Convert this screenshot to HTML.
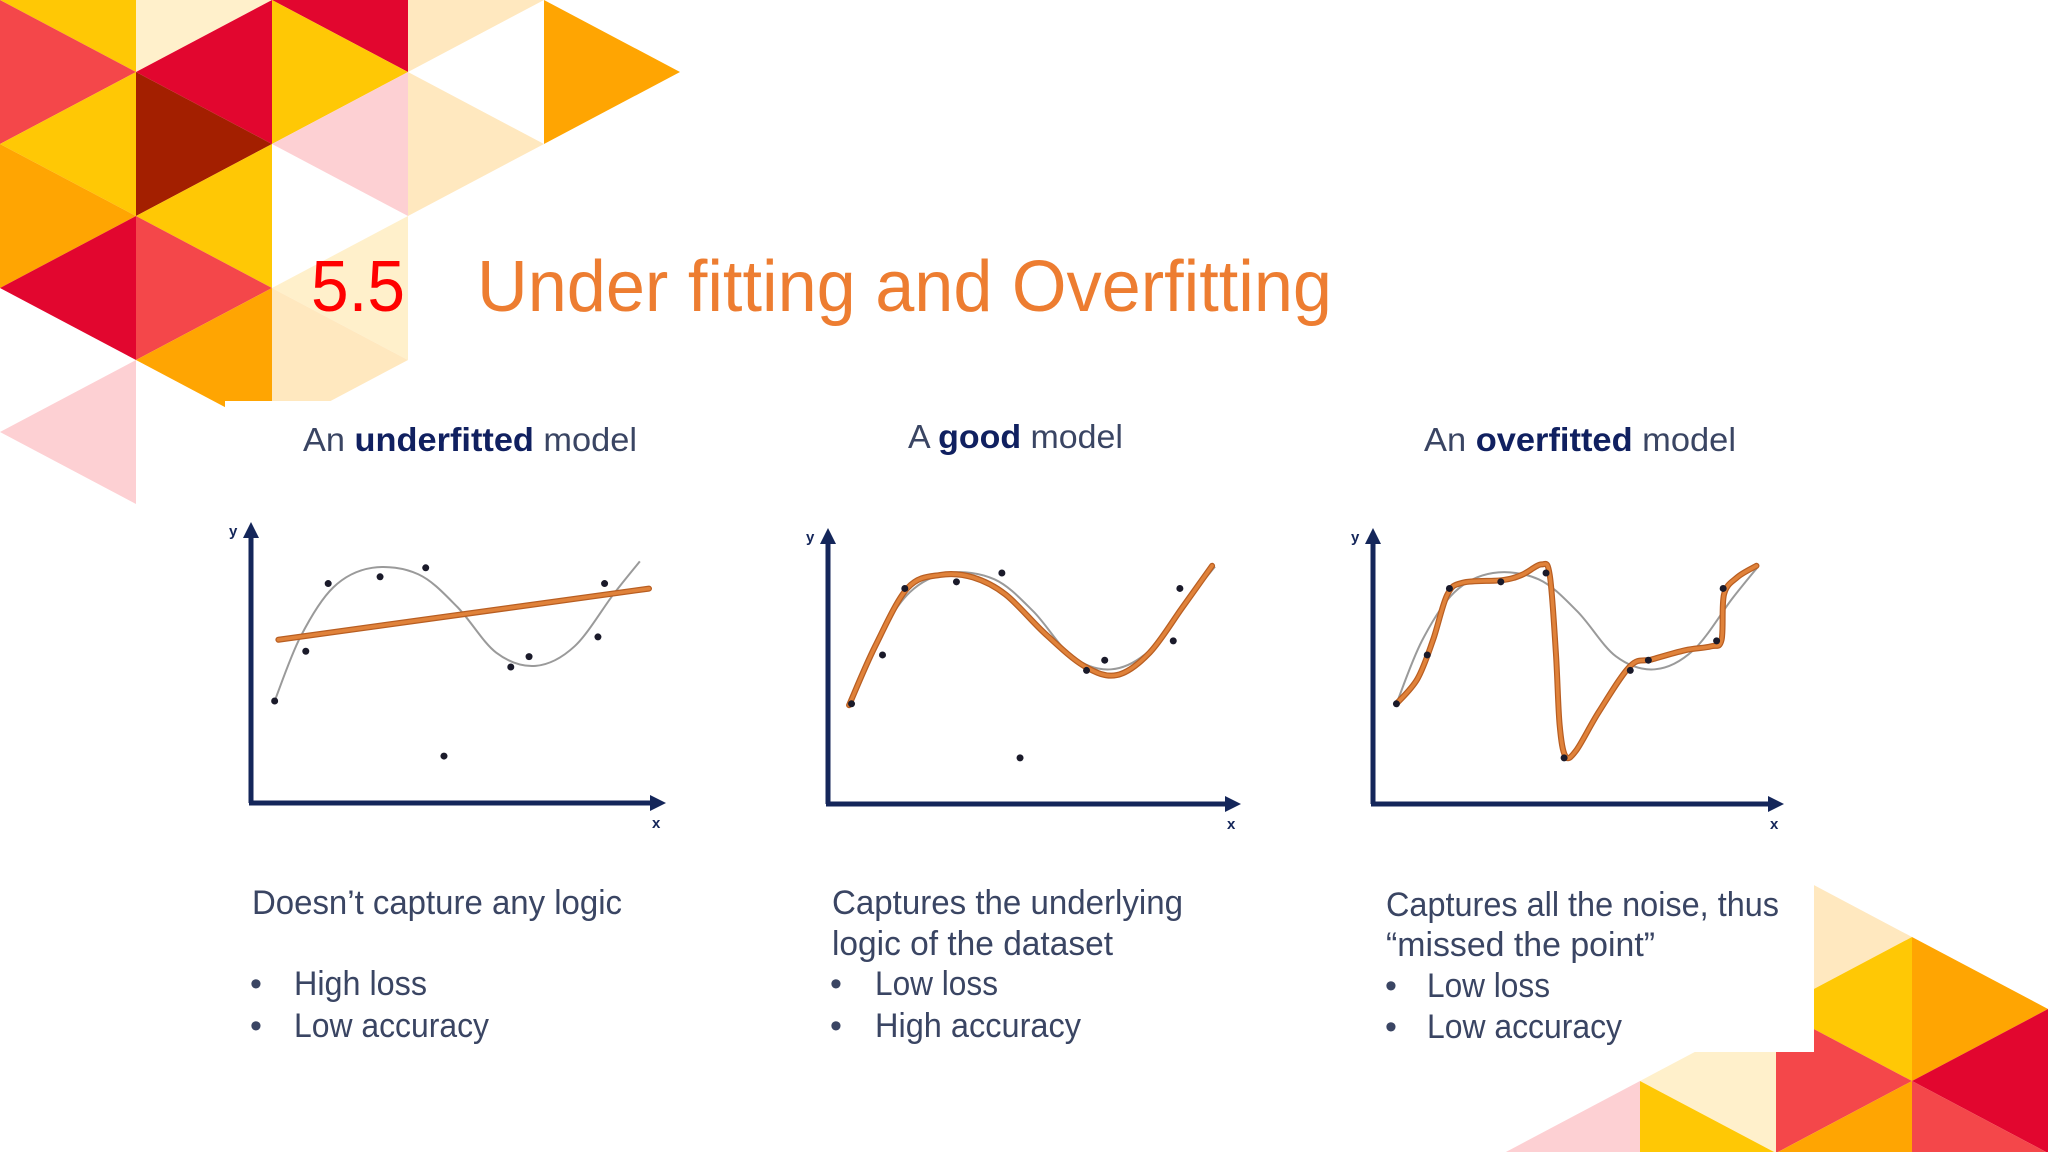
<!DOCTYPE html>
<html><head><meta charset="utf-8"><style>
html,body{margin:0;padding:0;background:#fff;width:2048px;height:1152px;overflow:hidden;}
svg{display:block;overflow:hidden;}
text{font-family:"Liberation Sans",sans-serif;}
</style></head><body>
<svg id="s" width="2048" height="1152" viewBox="0 0 2048 1152" xmlns="http://www.w3.org/2000/svg">
<g id="decor"></g>
<rect x="225" y="401" width="1589" height="651" fill="#fff"/>
<text x="311" y="311" font-size="72" fill="#FF0000" textLength="94" lengthAdjust="spacingAndGlyphs">5.5</text>
<text x="477" y="311" font-size="72" fill="#ED7D31" textLength="855" lengthAdjust="spacingAndGlyphs">Under fitting and Overfitting</text>

<text x="303" y="451" font-size="33" fill="#3A4563" textLength="334" lengthAdjust="spacingAndGlyphs">An <tspan font-weight="bold" fill="#102060">underfitted</tspan> model</text>
<text x="908" y="448" font-size="33" fill="#3A4563" textLength="215" lengthAdjust="spacingAndGlyphs">A <tspan font-weight="bold" fill="#102060">good</tspan> model</text>
<text x="1424" y="451" font-size="33" fill="#3A4563" textLength="312" lengthAdjust="spacingAndGlyphs">An <tspan font-weight="bold" fill="#102060">overfitted</tspan> model</text>

<g fill="#3A4563" font-size="34">
<text x="252" y="914" textLength="370" lengthAdjust="spacingAndGlyphs">Doesn’t capture any logic</text>
<text x="250" y="995">•</text>
<text x="294" y="995" textLength="133" lengthAdjust="spacingAndGlyphs">High loss</text>
<text x="250" y="1037">•</text>
<text x="294" y="1037" textLength="195" lengthAdjust="spacingAndGlyphs">Low accuracy</text>

<text x="832" y="914" textLength="351" lengthAdjust="spacingAndGlyphs">Captures the underlying</text>
<text x="832" y="955" textLength="281" lengthAdjust="spacingAndGlyphs">logic of the dataset</text>
<text x="830" y="995">•</text>
<text x="875" y="995" textLength="123" lengthAdjust="spacingAndGlyphs">Low loss</text>
<text x="830" y="1037">•</text>
<text x="875" y="1037" textLength="206" lengthAdjust="spacingAndGlyphs">High accuracy</text>

<text x="1386" y="916" textLength="393" lengthAdjust="spacingAndGlyphs">Captures all the noise, thus</text>
<text x="1386" y="956" textLength="269" lengthAdjust="spacingAndGlyphs">“missed the point”</text>
<text x="1385" y="997">•</text>
<text x="1427" y="997" textLength="123" lengthAdjust="spacingAndGlyphs">Low loss</text>
<text x="1385" y="1038">•</text>
<text x="1427" y="1038" textLength="195" lengthAdjust="spacingAndGlyphs">Low accuracy</text>
</g>
<g id="charts"></g>
</svg>
<script>
// ---- data (x,y in 0..100 units relative to each chart's axes) ----
const pointsX = [5.7, 13.2, 18.6, 31.1, 42.1, 46.5, 62.6, 67.0, 83.6, 85.2];
const pointsY = [36.3, 54.0, 78.1, 80.5, 83.7, 16.7, 48.4, 52.1, 59.1, 78.1];
const trueX = [5.7, 11.9, 19.8, 29.2, 40.3, 49.7, 59.1, 68.6, 78.0, 87.4, 93.7];
const trueY = [36.3, 59.1, 76.7, 83.7, 81.4, 69.8, 53.5, 48.8, 55.8, 74.4, 86.0];
const underX = [6.6, 95.9];
const underY = [58.1, 76.3];
const goodX = [5.1, 11.4, 19.3, 27.2, 35.1, 43.0, 52.5, 62.0, 69.9, 77.8, 85.8, 93.0];
const goodY = [35.8, 57.1, 78.3, 83.0, 82.1, 75.9, 61.8, 50.0, 46.7, 54.7, 71.2, 86.3];
const overX = [5.7, 10.8, 14.6, 18.1, 21.9, 31.4, 36.2, 41.0, 43.0, 44.5, 45.4, 46.8, 49.4, 55.0, 62.6, 67.9, 75.9, 82.2, 84.8, 85.4, 88.6, 93.3];
const overY = [36.3, 45.3, 59.4, 75.9, 80.2, 81.1, 83.0, 86.8, 83.0, 54.7, 28.8, 17.4, 19.3, 33.5, 50.0, 52.4, 55.7, 57.1, 59.4, 75.9, 82.1, 86.3];

const NS = "http://www.w3.org/2000/svg";
function mk(tag, attrs, parent){const e=document.createElementNS(NS,tag);for(const k in attrs)e.setAttribute(k,attrs[k]);parent.appendChild(e);return e;}

// ---- decoration triangles ----
const decor = document.getElementById('decor');
const C={g:'#FFC805',r:'#F4474A',k:'#E2062F',o:'#FFA502',d:'#A31F00',p:'#FDD0D3',c:'#FFF0CB',e:'#FFE8BF'};
function clipPoly(pts){
  // clip polygon to y in [0,1152] (Sutherland-Hodgman for two horizontal edges)
  function clip(poly, inside, inter){
    const out=[];
    for(let i=0;i<poly.length;i++){
      const a=poly[i],b=poly[(i+1)%poly.length];
      const ia=inside(a),ib=inside(b);
      if(ia) out.push(a);
      if(ia!==ib) out.push(inter(a,b));
    }
    return out;
  }
  const at=(a,b,y)=>[a[0]+(b[0]-a[0])*(y-a[1])/(b[1]-a[1]),y];
  let p=clip(pts,q=>q[1]>=0,(a,b)=>at(a,b,0));
  p=clip(p,q=>q[1]<=1152,(a,b)=>at(a,b,1152));
  return p;
}
const tl=[[0,0,'g'],[0,1,'r'],[0,2,'g'],[0,3,'o'],[0,4,'k'],[0,6,'p'],
[1,0,'c'],[1,1,'k'],[1,2,'d'],[1,3,'g'],[1,4,'r'],[1,5,'o'],
[2,0,'k'],[2,1,'g'],[2,2,'p'],[2,4,'c'],[2,5,'e'],
[3,0,'e'],[3,2,'e'],[4,1,'o']];
tl.forEach(([c,t,col])=>{
  const x0=136*c,x1=x0+136,y=72*t;let pts;
  if((c+t)%2===1) pts=[[x0,y-72],[x0,y+72],[x1,y]]; else pts=[[x1,y-72],[x1,y+72],[x0,y]];
  pts=clipPoly(pts);
  const p=mk('polygon',{points:pts.map(q=>q.join(',')).join(' '),fill:C[col]},decor);
  
  
});
const br=[[0,2,'o'],[0,3,'k'],[0,4,'r'],[1,1,'e'],[1,2,'g'],[1,3,'r'],[1,4,'o'],[2,3,'c'],[2,4,'g'],[3,4,'p']];
br.forEach(([j,t,col])=>{
  const x1=2048-136*j,x0=x1-136,y=865+72*t;let pts;
  if((t-j)%2===0) pts=[[x0,y-72],[x0,y+72],[x1,y]]; else pts=[[x1,y-72],[x1,y+72],[x0,y]];
  pts=clipPoly(pts);
  const p=mk('polygon',{points:pts.map(q=>q.join(',')).join(' '),fill:C[col]},decor);
  
  
});

// ---- charts ----
const charts=document.getElementById('charts');
const frames=[
 {ox:251,oy:803,right:666,top:522,fit:[underX,underY],name:'underfit'},
 {ox:828,oy:804,right:1241,top:528,fit:[goodX,goodY],name:'good'},
 {ox:1373,oy:804,right:1784,top:528,fit:[overX,overY],name:'overfit'}];
function smooth(P){
  if(P.length<3) return 'M'+P.map(p=>p.join(',')).join(' L');
  let d='M'+P[0][0]+','+P[0][1];
  for(let i=0;i<P.length-1;i++){
    const p0=P[Math.max(0,i-1)],p1=P[i],p2=P[i+1],p3=P[Math.min(P.length-1,i+2)];
    const c1=[p1[0]+(p2[0]-p0[0])/6,p1[1]+(p2[1]-p0[1])/6];
    const c2=[p2[0]-(p3[0]-p1[0])/6,p2[1]-(p3[1]-p1[1])/6];
    d+=' C'+c1.join(',')+' '+c2.join(',')+' '+p2.join(',');
  }
  return d;
}
frames.forEach(f=>{
  const g=mk('g',{},charts);
  
  
  const sx=v=>f.ox+v/100*(f.right-f.ox);
  const sy=v=>f.oy-v/100*(f.oy-f.top);
  const navy='#14265A';
  const ya=mk('line',{x1:f.ox,y1:f.oy,x2:f.ox,y2:f.top+14,stroke:navy,'stroke-width':5},g);
  
  
  const yh=mk('polygon',{points:`${f.ox-8},${f.top+16} ${f.ox+8},${f.top+16} ${f.ox},${f.top}`,fill:navy},g);
  
  
  const xa=mk('line',{x1:f.ox-2,y1:f.oy,x2:f.right-14,y2:f.oy,stroke:navy,'stroke-width':5},g);
  
  
  const xh=mk('polygon',{points:`${f.right-16},${f.oy-8} ${f.right-16},${f.oy+8} ${f.right},${f.oy}`,fill:navy},g);
  
  
  const yl=mk('text',{x:f.ox-22,y:f.top+14,'font-size':15,'font-weight':'bold',fill:navy},g);
  yl.textContent='y';
  
  
  const xl=mk('text',{x:f.right-14,y:f.oy+25,'font-size':15,'font-weight':'bold',fill:navy},g);
  xl.textContent='x';
  
  
  const tp=trueX.map((x,i)=>[sx(x),sy(trueY[i])]);
  const tc=mk('path',{d:smooth(tp),fill:'none',stroke:'#9A9A9A','stroke-width':2},g);
  
  
  const fp=f.fit[0].map((x,i)=>[sx(x),sy(f.fit[1][i])]);
  const fo=mk('path',{d:smooth(fp),fill:'none',stroke:'#B85E22','stroke-width':6,'stroke-linecap':'round','stroke-linejoin':'round'},g);
  
  
  const fc=mk('path',{d:smooth(fp),fill:'none',stroke:'#E0823A','stroke-width':3.5,'stroke-linecap':'round','stroke-linejoin':'round'},g);
  
  
  pointsX.forEach((x,i)=>{
    const c=mk('circle',{cx:sx(x),cy:sy(pointsY[i]),r:3.5,fill:'#1A1A2A'},g);
    
    
  });
});
</script>
</body></html>
